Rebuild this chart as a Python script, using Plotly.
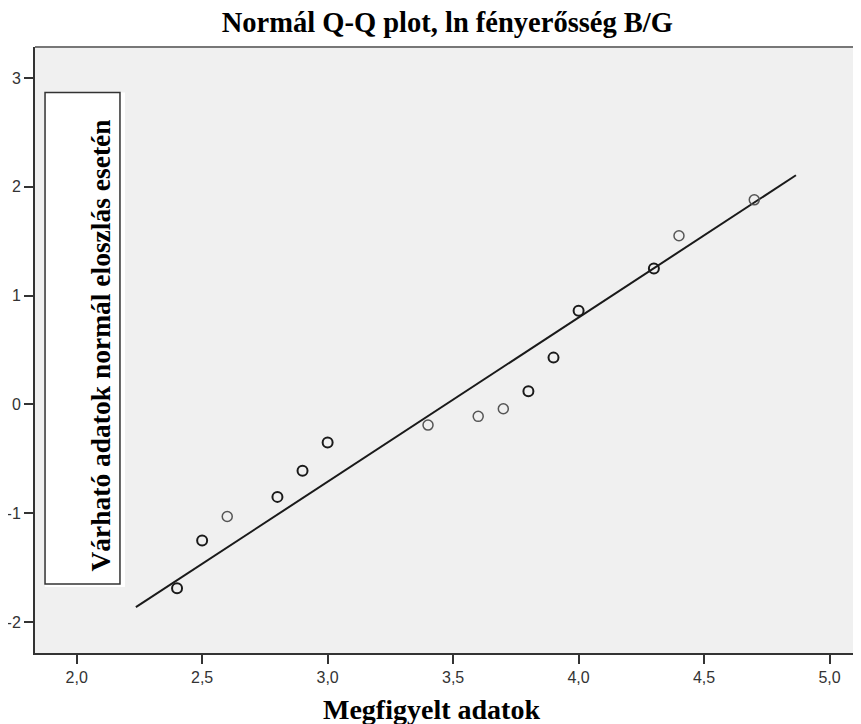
'''
    Normal Q-Q plot of ln brightness B/G, SPSS style.
'''
import plotly.graph_objects as go

# observed values (x) and expected normal values (y)
observed = [2.4, 2.5, 2.6, 2.8, 2.9, 3.0, 3.4, 3.6, 3.7, 3.8, 3.9, 4.0, 4.3, 4.4, 4.7]
expected = [-1.69, -1.25, -1.03, -0.85, -0.61, -0.35, -0.19, -0.11, -0.04, 0.12, 0.43, 0.86, 1.25, 1.55, 1.88]
# overlapping observations make the ring darker
counts = [2, 2, 1, 2, 2, 2, 1, 1, 1, 2, 2, 2, 2, 1, 1]

# reference line end points
line_x = [2.236, 4.866]
line_y = [-1.864, 2.106]

x_ticks = [2.0, 2.5, 3.0, 3.5, 4.0, 4.5, 5.0]
x_tick_text = ['2,0', '2,5', '3,0', '3,5', '4,0', '4,5', '5,0']
y_ticks = [-2, -1, 0, 1, 2, 3]
y_tick_text = ['-2', '-1', '0', '1', '2', '3']

SERIF = 'Liberation Serif, Times New Roman, serif'
SANS = 'Liberation Sans, Arial, sans-serif'


def get_plot():
    fig = go.Figure()

    fig.add_trace(go.Scatter(
        x=line_x, y=line_y, mode='lines',
        line=dict(color='#1a1a1a', width=2),
        hoverinfo='skip', showlegend=False
    ))

    ring_col = ['#1a1a1a' if c > 1 else '#555555' for c in counts]
    ring_w = [2 if c > 1 else 1.5 for c in counts]
    fig.add_trace(go.Scatter(
        x=observed, y=expected, mode='markers',
        marker=dict(symbol='circle-open', size=10, color=ring_col,
                    line=dict(color=ring_col, width=ring_w)),
        showlegend=False
    ))

    # box behind the y axis label
    fig.add_shape(type='rect', xref='x domain', yref='y domain',
                  x0=0.0119, x1=0.1068, y0=0.109, y1=0.925,
                  fillcolor='white', line=dict(width=0), layer='above')
    fig.add_shape(type='rect', xref='x domain', yref='y domain',
                  x0=0.0119, x1=0.1008, y0=0.114, y1=0.925,
                  fillcolor='white', line=dict(color='#333333', width=1.5), layer='above')
    # top frame line
    fig.add_shape(type='line', xref='x domain', yref='y domain',
                  x0=0, x1=1, y0=1, y1=1,
                  line=dict(color='#777777', width=2))

    fig.add_annotation(text='<b>Várható adatok normál eloszlás esetén</b>',
                       xref='x domain', yref='y domain', x=0.0569, y=0.508,
                       textangle=-90, showarrow=False,
                       font=dict(family=SERIF, size=27.5, color='#000000'))
    fig.add_annotation(text='<b>Megfigyelt adatok</b>',
                       xref='paper', yref='paper', x=0.470, y=0,
                       yanchor='middle', yshift=-56, showarrow=False,
                       font=dict(family=SERIF, size=28, color='#000000'))

    # the page adds an 8px body margin; the plot runs off the right edge
    fig.update_layout(
        width=870, height=716,
        margin=dict(l=27, r=0, t=39, b=71),
        paper_bgcolor='white',
        plot_bgcolor='#f0f0f0',
        title=dict(text='<b>Normál Q-Q plot, ln fényerősség B/G</b>',
                   x=0.505, xanchor='center', y=1 - 14 / 716, yanchor='middle',
                   font=dict(family=SERIF, size=28.5, color='#000000')),
        font=dict(family=SANS, size=16, color='#333333'),
        dragmode=False
    )
    fig.update_xaxes(range=[1.834, 5.193], tickvals=x_ticks, ticktext=x_tick_text,
                     showgrid=False, zeroline=False, showline=True,
                     linecolor='#333333', linewidth=2,
                     ticks='outside', ticklen=9, tickwidth=2, tickcolor='#333333')
    fig.update_yaxes(range=[-2.285, 3.285], tickvals=y_ticks, ticktext=y_tick_text,
                     showgrid=False, zeroline=False, showline=True,
                     linecolor='#333333', linewidth=2,
                     ticks='outside', ticklen=9, tickwidth=2, tickcolor='#333333')
    return fig


fig = get_plot()
fig.write_html('out.html')
